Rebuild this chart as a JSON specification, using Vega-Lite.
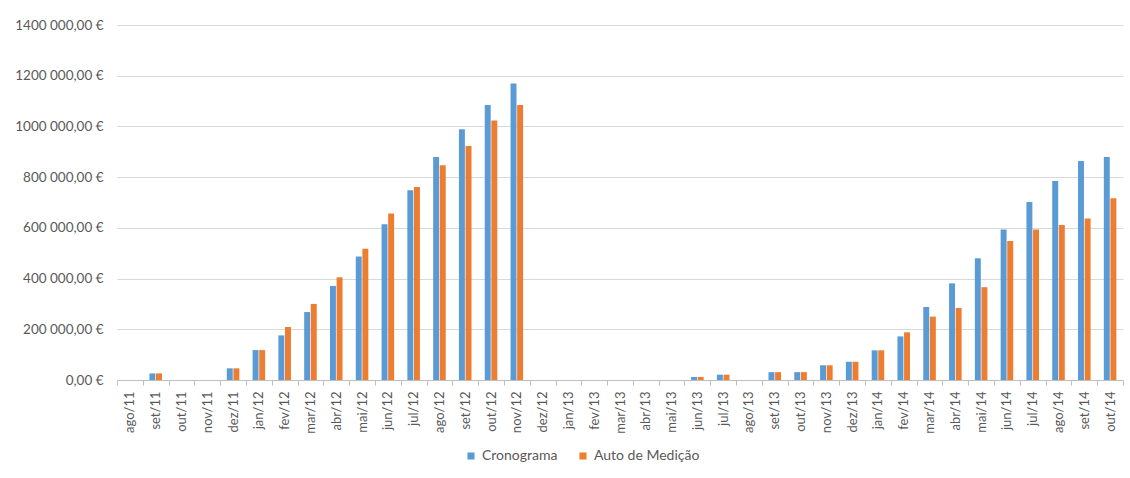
{
  "$schema": "https://vega.github.io/schema/vega-lite/v6.json",
  "width": 1006,
  "height": 355,
  "autosize": {"type": "none"},
  "padding": {"left": 117, "top": 25, "right": 7, "bottom": 98},
  "background": "white",
  "config": {
    "font": "Lato",
    "view": {"stroke": null},
    "axis": {"labelColor": "#595959", "labelFont": "Lato", "labelFontSize": 12.5}
  },
  "data": {
    "values": [
      {"mes": "ago/11", "serie": "Cronograma", "valor": 0},
      {"mes": "ago/11", "serie": "Auto de Medição", "valor": 0},
      {"mes": "set/11", "serie": "Cronograma", "valor": 26000},
      {"mes": "set/11", "serie": "Auto de Medição", "valor": 26000},
      {"mes": "out/11", "serie": "Cronograma", "valor": 0},
      {"mes": "out/11", "serie": "Auto de Medição", "valor": 0},
      {"mes": "nov/11", "serie": "Cronograma", "valor": 0},
      {"mes": "nov/11", "serie": "Auto de Medição", "valor": 0},
      {"mes": "dez/11", "serie": "Cronograma", "valor": 46000},
      {"mes": "dez/11", "serie": "Auto de Medição", "valor": 46000},
      {"mes": "jan/12", "serie": "Cronograma", "valor": 118000},
      {"mes": "jan/12", "serie": "Auto de Medição", "valor": 118000},
      {"mes": "fev/12", "serie": "Cronograma", "valor": 176000},
      {"mes": "fev/12", "serie": "Auto de Medição", "valor": 209000},
      {"mes": "mar/12", "serie": "Cronograma", "valor": 268000},
      {"mes": "mar/12", "serie": "Auto de Medição", "valor": 300000},
      {"mes": "abr/12", "serie": "Cronograma", "valor": 371000},
      {"mes": "abr/12", "serie": "Auto de Medição", "valor": 405000},
      {"mes": "mai/12", "serie": "Cronograma", "valor": 487000},
      {"mes": "mai/12", "serie": "Auto de Medição", "valor": 518000},
      {"mes": "jun/12", "serie": "Cronograma", "valor": 614000},
      {"mes": "jun/12", "serie": "Auto de Medição", "valor": 657000},
      {"mes": "jul/12", "serie": "Cronograma", "valor": 748000},
      {"mes": "jul/12", "serie": "Auto de Medição", "valor": 761000},
      {"mes": "ago/12", "serie": "Cronograma", "valor": 879000},
      {"mes": "ago/12", "serie": "Auto de Medição", "valor": 847000},
      {"mes": "set/12", "serie": "Cronograma", "valor": 989000},
      {"mes": "set/12", "serie": "Auto de Medição", "valor": 923000},
      {"mes": "out/12", "serie": "Cronograma", "valor": 1085000},
      {"mes": "out/12", "serie": "Auto de Medição", "valor": 1023000},
      {"mes": "nov/12", "serie": "Cronograma", "valor": 1169000},
      {"mes": "nov/12", "serie": "Auto de Medição", "valor": 1085000},
      {"mes": "dez/12", "serie": "Cronograma", "valor": 0},
      {"mes": "dez/12", "serie": "Auto de Medição", "valor": 0},
      {"mes": "jan/13", "serie": "Cronograma", "valor": 0},
      {"mes": "jan/13", "serie": "Auto de Medição", "valor": 0},
      {"mes": "fev/13", "serie": "Cronograma", "valor": 0},
      {"mes": "fev/13", "serie": "Auto de Medição", "valor": 0},
      {"mes": "mar/13", "serie": "Cronograma", "valor": 0},
      {"mes": "mar/13", "serie": "Auto de Medição", "valor": 0},
      {"mes": "abr/13", "serie": "Cronograma", "valor": 0},
      {"mes": "abr/13", "serie": "Auto de Medição", "valor": 0},
      {"mes": "mai/13", "serie": "Cronograma", "valor": 0},
      {"mes": "mai/13", "serie": "Auto de Medição", "valor": 0},
      {"mes": "jun/13", "serie": "Cronograma", "valor": 12000},
      {"mes": "jun/13", "serie": "Auto de Medição", "valor": 12000},
      {"mes": "jul/13", "serie": "Cronograma", "valor": 21000},
      {"mes": "jul/13", "serie": "Auto de Medição", "valor": 21000},
      {"mes": "ago/13", "serie": "Cronograma", "valor": 0},
      {"mes": "ago/13", "serie": "Auto de Medição", "valor": 0},
      {"mes": "set/13", "serie": "Cronograma", "valor": 31000},
      {"mes": "set/13", "serie": "Auto de Medição", "valor": 31000},
      {"mes": "out/13", "serie": "Cronograma", "valor": 31000},
      {"mes": "out/13", "serie": "Auto de Medição", "valor": 31000},
      {"mes": "nov/13", "serie": "Cronograma", "valor": 58000},
      {"mes": "nov/13", "serie": "Auto de Medição", "valor": 58000},
      {"mes": "dez/13", "serie": "Cronograma", "valor": 72000},
      {"mes": "dez/13", "serie": "Auto de Medição", "valor": 72000},
      {"mes": "jan/14", "serie": "Cronograma", "valor": 117000},
      {"mes": "jan/14", "serie": "Auto de Medição", "valor": 117000},
      {"mes": "fev/14", "serie": "Cronograma", "valor": 172000},
      {"mes": "fev/14", "serie": "Auto de Medição", "valor": 188000},
      {"mes": "mar/14", "serie": "Cronograma", "valor": 288000},
      {"mes": "mar/14", "serie": "Auto de Medição", "valor": 250000},
      {"mes": "abr/14", "serie": "Cronograma", "valor": 381000},
      {"mes": "abr/14", "serie": "Auto de Medição", "valor": 284000},
      {"mes": "mai/14", "serie": "Cronograma", "valor": 480000},
      {"mes": "mai/14", "serie": "Auto de Medição", "valor": 366000},
      {"mes": "jun/14", "serie": "Cronograma", "valor": 594000},
      {"mes": "jun/14", "serie": "Auto de Medição", "valor": 548000},
      {"mes": "jul/14", "serie": "Cronograma", "valor": 702000},
      {"mes": "jul/14", "serie": "Auto de Medição", "valor": 594000},
      {"mes": "ago/14", "serie": "Cronograma", "valor": 785000},
      {"mes": "ago/14", "serie": "Auto de Medição", "valor": 611000},
      {"mes": "set/14", "serie": "Cronograma", "valor": 864000},
      {"mes": "set/14", "serie": "Auto de Medição", "valor": 637000},
      {"mes": "out/14", "serie": "Cronograma", "valor": 879000},
      {"mes": "out/14", "serie": "Auto de Medição", "valor": 717000}
    ]
  },
  "mark": {"type": "bar"},
  "encoding": {
    "x": {
      "field": "mes",
      "type": "nominal",
      "sort": null,
      "scale": {"paddingInner": 0, "paddingOuter": 0},
      "axis": {
        "title": null,
        "labelAngle": -90,
        "labelAlign": "right",
        "labelBaseline": "middle",
        "labelPadding": 6,
        "labelFontSize": 13,
        "tickBand": "extent",
        "tickSize": 5,
        "tickColor": "#bfbfbf",
        "domainColor": "#bfbfbf",
        "grid": false
      }
    },
    "xOffset": {
      "field": "serie",
      "type": "nominal",
      "sort": ["Cronograma", "Auto de Medição"],
      "scale": {"paddingInner": 0.1, "paddingOuter": 1.05}
    },
    "y": {
      "field": "valor",
      "type": "quantitative",
      "scale": {"domain": [0, 1400000], "nice": false},
      "axis": {
        "title": null,
        "values": [0, 200000, 400000, 600000, 800000, 1000000, 1200000, 1400000],
        "labelExpr": "datum.value == 0 ? '0,00 €' : format(datum.value / 1000, 'd') + ' 000,00 €'",
        "domain": false,
        "ticks": false,
        "labelPadding": 14,
        "labelFontSize": 13.5,
        "gridColor": "#d9d9d9",
        "gridWidth": 1
      }
    },
    "color": {
      "field": "serie",
      "type": "nominal",
      "scale": {"domain": ["Cronograma", "Auto de Medição"], "range": ["#5B9BD5", "#ED7D31"]},
      "legend": {
        "title": null,
        "orient": "none",
        "direction": "horizontal",
        "legendX": 347,
        "legendY": 424,
        "symbolType": "square",
        "symbolSize": 50,
        "symbolStrokeWidth": 0,
        "labelFont": "Lato",
        "labelFontSize": 14,
        "labelColor": "#595959",
        "columnPadding": 18,
        "labelOffset": 4
      }
    }
  }
}
